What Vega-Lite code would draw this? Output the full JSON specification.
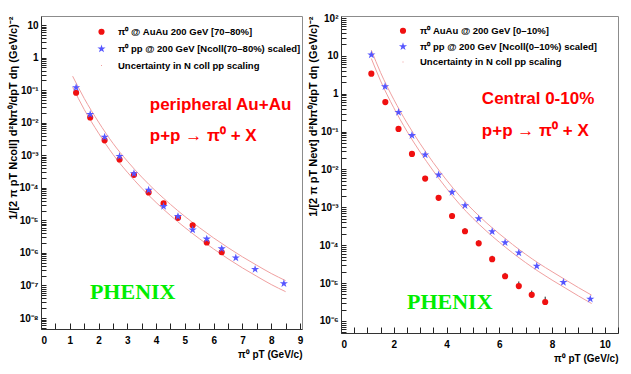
{
  "$schema": "https://vega.github.io/schema/vega-lite/v6.json",
  "background": "white",
  "padding": {"left": 7, "top": 12, "right": 0, "bottom": 0},
  "spacing": 3,
  "config": {
    "view": {"stroke": "#8c8c8c", "strokeWidth": 1},
    "axis": {"grid": false, "labelFont": "Liberation Sans", "labelFontWeight": "bold", "labelFontSize": 10, "labelColor": "#000", "titleFont": "Liberation Sans", "titleFontWeight": "bold", "titleFontSize": 10, "titleColor": "#000", "domainColor": "#333", "tickColor": "#222", "labelOverlap": false},
    "legend": {"labelFont": "Liberation Sans", "labelFontWeight": "bold", "labelFontSize": 9.5, "labelColor": "#000", "labelLimit": 0}
  },
  "datasets": {
    "leftPts": [
      {"pt": 1.22, "y": 0.0832, "lo": 0.0741, "hi": 0.0933, "series": "π⁰ @ AuAu 200 GeV [70–80%]"},
      {"pt": 1.71, "y": 0.01445, "lo": 0.01288, "hi": 0.01622, "series": "π⁰ @ AuAu 200 GeV [70–80%]"},
      {"pt": 2.21, "y": 0.00288, "lo": 0.00251, "hi": 0.00331, "series": "π⁰ @ AuAu 200 GeV [70–80%]"},
      {"pt": 2.73, "y": 0.000741, "lo": 0.000646, "hi": 0.000851, "series": "π⁰ @ AuAu 200 GeV [70–80%]"},
      {"pt": 3.23, "y": 0.000251, "lo": 0.000214, "hi": 0.000295, "series": "π⁰ @ AuAu 200 GeV [70–80%]"},
      {"pt": 3.74, "y": 7.24e-5, "lo": 6.03e-5, "hi": 8.71e-5, "series": "π⁰ @ AuAu 200 GeV [70–80%]"},
      {"pt": 4.26, "y": 3.31e-5, "lo": 2.75e-5, "hi": 3.89e-5, "series": "π⁰ @ AuAu 200 GeV [70–80%]"},
      {"pt": 4.76, "y": 1.2e-5, "lo": 1.0e-5, "hi": 1.41e-5, "series": "π⁰ @ AuAu 200 GeV [70–80%]"},
      {"pt": 5.27, "y": 7.08e-6, "lo": 5.75e-6, "hi": 8.51e-6, "series": "π⁰ @ AuAu 200 GeV [70–80%]"},
      {"pt": 5.76, "y": 2.09e-6, "lo": 1.48e-6, "hi": 2.75e-6, "series": "π⁰ @ AuAu 200 GeV [70–80%]"},
      {"pt": 6.28, "y": 1.05e-6, "lo": 5.62e-7, "hi": 1.48e-6, "series": "π⁰ @ AuAu 200 GeV [70–80%]"},
      {"pt": 1.22, "y": 0.12, "lo": 0.112, "hi": 0.129, "series": "π⁰ pp @ 200 GeV [Ncoll(70–80%) scaled]"},
      {"pt": 1.71, "y": 0.0182, "lo": 0.017, "hi": 0.0195, "series": "π⁰ pp @ 200 GeV [Ncoll(70–80%) scaled]"},
      {"pt": 2.21, "y": 0.00363, "lo": 0.0034, "hi": 0.00389, "series": "π⁰ pp @ 200 GeV [Ncoll(70–80%) scaled]"},
      {"pt": 2.73, "y": 0.000933, "lo": 0.00087, "hi": 0.001, "series": "π⁰ pp @ 200 GeV [Ncoll(70–80%) scaled]"},
      {"pt": 3.23, "y": 0.000275, "lo": 0.000257, "hi": 0.000295, "series": "π⁰ pp @ 200 GeV [Ncoll(70–80%) scaled]"},
      {"pt": 3.74, "y": 8.51e-5, "lo": 7.94e-5, "hi": 9.12e-5, "series": "π⁰ pp @ 200 GeV [Ncoll(70–80%) scaled]"},
      {"pt": 4.26, "y": 2.69e-5, "lo": 2.51e-5, "hi": 2.88e-5, "series": "π⁰ pp @ 200 GeV [Ncoll(70–80%) scaled]"},
      {"pt": 4.76, "y": 1.32e-5, "lo": 1.23e-5, "hi": 1.41e-5, "series": "π⁰ pp @ 200 GeV [Ncoll(70–80%) scaled]"},
      {"pt": 5.27, "y": 5.13e-6, "lo": 4.79e-6, "hi": 5.5e-6, "series": "π⁰ pp @ 200 GeV [Ncoll(70–80%) scaled]"},
      {"pt": 5.76, "y": 2.69e-6, "lo": 2.51e-6, "hi": 2.88e-6, "series": "π⁰ pp @ 200 GeV [Ncoll(70–80%) scaled]"},
      {"pt": 6.28, "y": 1.35e-6, "lo": 1.26e-6, "hi": 1.45e-6, "series": "π⁰ pp @ 200 GeV [Ncoll(70–80%) scaled]"},
      {"pt": 6.77, "y": 7.08e-7, "lo": 6.61e-7, "hi": 7.59e-7, "series": "π⁰ pp @ 200 GeV [Ncoll(70–80%) scaled]"},
      {"pt": 7.44, "y": 3.16e-7, "lo": 2.95e-7, "hi": 3.39e-7, "series": "π⁰ pp @ 200 GeV [Ncoll(70–80%) scaled]"},
      {"pt": 8.44, "y": 1.15e-7, "lo": 1.07e-7, "hi": 1.23e-7, "series": "π⁰ pp @ 200 GeV [Ncoll(70–80%) scaled]"}
    ],
    "leftBand": [
      {"pt": 1.1, "y": 0.269, "side": "upper"}, {"pt": 1.5, "y": 0.0562, "side": "upper"}, {"pt": 2.0, "y": 0.01047, "side": "upper"}, {"pt": 2.5, "y": 0.00234, "side": "upper"},
      {"pt": 3.0, "y": 0.000661, "side": "upper"}, {"pt": 3.5, "y": 0.000214, "side": "upper"}, {"pt": 4.0, "y": 7.76e-5, "side": "upper"}, {"pt": 4.5, "y": 3.09e-5, "side": "upper"},
      {"pt": 5.0, "y": 1.32e-5, "side": "upper"}, {"pt": 5.5, "y": 6.03e-6, "side": "upper"}, {"pt": 6.0, "y": 2.88e-6, "side": "upper"}, {"pt": 6.5, "y": 1.45e-6, "side": "upper"},
      {"pt": 7.0, "y": 7.59e-7, "side": "upper"}, {"pt": 7.5, "y": 4.17e-7, "side": "upper"}, {"pt": 8.0, "y": 2.34e-7, "side": "upper"}, {"pt": 8.5, "y": 1.41e-7, "side": "upper"},
      {"pt": 1.1, "y": 0.123, "side": "lower"}, {"pt": 1.5, "y": 0.0257, "side": "lower"}, {"pt": 2.0, "y": 0.00479, "side": "lower"}, {"pt": 2.5, "y": 0.00107, "side": "lower"},
      {"pt": 3.0, "y": 0.000302, "side": "lower"}, {"pt": 3.5, "y": 9.77e-5, "side": "lower"}, {"pt": 4.0, "y": 3.55e-5, "side": "lower"}, {"pt": 4.5, "y": 1.41e-5, "side": "lower"},
      {"pt": 5.0, "y": 6.03e-6, "side": "lower"}, {"pt": 5.5, "y": 2.75e-6, "side": "lower"}, {"pt": 6.0, "y": 1.32e-6, "side": "lower"}, {"pt": 6.5, "y": 6.61e-7, "side": "lower"},
      {"pt": 7.0, "y": 3.47e-7, "side": "lower"}, {"pt": 7.5, "y": 1.91e-7, "side": "lower"}, {"pt": 8.0, "y": 1.07e-7, "side": "lower"}, {"pt": 8.5, "y": 6.46e-8, "side": "lower"}
    ],
    "leftText": [
      {"pt": 3.78, "y": 0.035, "label": "peripheral Au+Au", "kind": "red"},
      {"pt": 3.78, "y": 0.004, "label": "p+p → π⁰ + X", "kind": "red"},
      {"pt": 1.7, "y": 6.5e-8, "label": "PHENIX", "kind": "green"}
    ],
    "rightPts": [
      {"pt": 1.15, "y": 3.39, "lo": 2.95, "hi": 3.89, "series": "π⁰ AuAu @ 200 GeV [0–10%]"},
      {"pt": 1.68, "y": 0.603, "lo": 0.525, "hi": 0.692, "series": "π⁰ AuAu @ 200 GeV [0–10%]"},
      {"pt": 2.18, "y": 0.1175, "lo": 0.1, "hi": 0.138, "series": "π⁰ AuAu @ 200 GeV [0–10%]"},
      {"pt": 2.69, "y": 0.0257, "lo": 0.0219, "hi": 0.0295, "series": "π⁰ AuAu @ 200 GeV [0–10%]"},
      {"pt": 3.19, "y": 0.00575, "lo": 0.0049, "hi": 0.00676, "series": "π⁰ AuAu @ 200 GeV [0–10%]"},
      {"pt": 3.7, "y": 0.00178, "lo": 0.00148, "hi": 0.00209, "series": "π⁰ AuAu @ 200 GeV [0–10%]"},
      {"pt": 4.21, "y": 0.000589, "lo": 0.00049, "hi": 0.000708, "series": "π⁰ AuAu @ 200 GeV [0–10%]"},
      {"pt": 4.7, "y": 0.000234, "lo": 0.000191, "hi": 0.000282, "series": "π⁰ AuAu @ 200 GeV [0–10%]"},
      {"pt": 5.22, "y": 0.000112, "lo": 8.71e-5, "hi": 0.000135, "series": "π⁰ AuAu @ 200 GeV [0–10%]"},
      {"pt": 5.73, "y": 4.27e-5, "lo": 3.09e-5, "hi": 5.25e-5, "series": "π⁰ AuAu @ 200 GeV [0–10%]"},
      {"pt": 6.22, "y": 1.51e-5, "lo": 1.17e-5, "hi": 1.86e-5, "series": "π⁰ AuAu @ 200 GeV [0–10%]"},
      {"pt": 6.74, "y": 8.32e-6, "lo": 5.89e-6, "hi": 1.1e-5, "series": "π⁰ AuAu @ 200 GeV [0–10%]"},
      {"pt": 7.23, "y": 4.9e-6, "lo": 3.47e-6, "hi": 6.31e-6, "series": "π⁰ AuAu @ 200 GeV [0–10%]"},
      {"pt": 7.74, "y": 3.16e-6, "lo": 2.24e-6, "hi": 4.37e-6, "series": "π⁰ AuAu @ 200 GeV [0–10%]"},
      {"pt": 1.15, "y": 10.7, "lo": 10.0, "hi": 11.5, "series": "π⁰ pp @ 200 GeV [Ncoll(0–10%) scaled]"},
      {"pt": 1.67, "y": 1.55, "lo": 1.45, "hi": 1.66, "series": "π⁰ pp @ 200 GeV [Ncoll(0–10%) scaled]"},
      {"pt": 2.18, "y": 0.324, "lo": 0.302, "hi": 0.347, "series": "π⁰ pp @ 200 GeV [Ncoll(0–10%) scaled]"},
      {"pt": 2.69, "y": 0.0794, "lo": 0.0741, "hi": 0.0851, "series": "π⁰ pp @ 200 GeV [Ncoll(0–10%) scaled]"},
      {"pt": 3.19, "y": 0.0245, "lo": 0.0229, "hi": 0.0263, "series": "π⁰ pp @ 200 GeV [Ncoll(0–10%) scaled]"},
      {"pt": 3.7, "y": 0.00724, "lo": 0.00676, "hi": 0.00776, "series": "π⁰ pp @ 200 GeV [Ncoll(0–10%) scaled]"},
      {"pt": 4.21, "y": 0.00251, "lo": 0.00229, "hi": 0.00275, "series": "π⁰ pp @ 200 GeV [Ncoll(0–10%) scaled]"},
      {"pt": 4.7, "y": 0.00112, "lo": 0.00102, "hi": 0.00123, "series": "π⁰ pp @ 200 GeV [Ncoll(0–10%) scaled]"},
      {"pt": 5.22, "y": 0.000501, "lo": 0.000457, "hi": 0.00055, "series": "π⁰ pp @ 200 GeV [Ncoll(0–10%) scaled]"},
      {"pt": 5.73, "y": 0.000229, "lo": 0.000209, "hi": 0.000251, "series": "π⁰ pp @ 200 GeV [Ncoll(0–10%) scaled]"},
      {"pt": 6.22, "y": 0.000117, "lo": 0.000107, "hi": 0.000128, "series": "π⁰ pp @ 200 GeV [Ncoll(0–10%) scaled]"},
      {"pt": 6.74, "y": 6.31e-5, "lo": 5.75e-5, "hi": 6.92e-5, "series": "π⁰ pp @ 200 GeV [Ncoll(0–10%) scaled]"},
      {"pt": 7.42, "y": 2.82e-5, "lo": 2.57e-5, "hi": 3.09e-5, "series": "π⁰ pp @ 200 GeV [Ncoll(0–10%) scaled]"},
      {"pt": 8.43, "y": 1.05e-5, "lo": 9.55e-6, "hi": 1.15e-5, "series": "π⁰ pp @ 200 GeV [Ncoll(0–10%) scaled]"},
      {"pt": 9.45, "y": 3.8e-6, "lo": 3.39e-6, "hi": 4.27e-6, "series": "π⁰ pp @ 200 GeV [Ncoll(0–10%) scaled]"}
    ],
    "rightBand": [
      {"pt": 1.15, "y": 14.1, "side": "upper"}, {"pt": 1.5, "y": 3.63, "side": "upper"}, {"pt": 2.0, "y": 0.708, "side": "upper"}, {"pt": 2.5, "y": 0.17, "side": "upper"},
      {"pt": 3.0, "y": 0.0479, "side": "upper"}, {"pt": 3.5, "y": 0.0151, "side": "upper"}, {"pt": 4.0, "y": 0.00525, "side": "upper"}, {"pt": 4.5, "y": 0.002, "side": "upper"},
      {"pt": 5.0, "y": 0.000851, "side": "upper"}, {"pt": 5.5, "y": 0.000398, "side": "upper"}, {"pt": 6.0, "y": 0.0002, "side": "upper"}, {"pt": 6.5, "y": 0.000105, "side": "upper"},
      {"pt": 7.0, "y": 5.75e-5, "side": "upper"}, {"pt": 7.5, "y": 3.31e-5, "side": "upper"}, {"pt": 8.0, "y": 2.0e-5, "side": "upper"}, {"pt": 8.5, "y": 1.23e-5, "side": "upper"},
      {"pt": 9.0, "y": 7.59e-6, "side": "upper"}, {"pt": 9.5, "y": 4.79e-6, "side": "upper"},
      {"pt": 1.15, "y": 8.51, "side": "lower"}, {"pt": 1.5, "y": 2.19, "side": "lower"}, {"pt": 2.0, "y": 0.427, "side": "lower"}, {"pt": 2.5, "y": 0.102, "side": "lower"},
      {"pt": 3.0, "y": 0.0288, "side": "lower"}, {"pt": 3.5, "y": 0.00912, "side": "lower"}, {"pt": 4.0, "y": 0.00316, "side": "lower"}, {"pt": 4.5, "y": 0.0012, "side": "lower"},
      {"pt": 5.0, "y": 0.000513, "side": "lower"}, {"pt": 5.5, "y": 0.00024, "side": "lower"}, {"pt": 6.0, "y": 0.00012, "side": "lower"}, {"pt": 6.5, "y": 6.31e-5, "side": "lower"},
      {"pt": 7.0, "y": 3.47e-5, "side": "lower"}, {"pt": 7.5, "y": 2.0e-5, "side": "lower"}, {"pt": 8.0, "y": 1.2e-5, "side": "lower"}, {"pt": 8.5, "y": 7.41e-6, "side": "lower"},
      {"pt": 9.0, "y": 4.57e-6, "side": "lower"}, {"pt": 9.5, "y": 2.88e-6, "side": "lower"}
    ],
    "rightText": [
      {"pt": 5.34, "y": 0.73, "label": "Central 0-10%", "kind": "red"},
      {"pt": 5.34, "y": 0.105, "label": "p+p → π⁰ + X", "kind": "red"},
      {"pt": 2.5, "y": 3.2e-6, "label": "PHENIX", "kind": "green"}
    ]
  },
  "resolve": {"scale": {"x": "independent", "y": "independent", "color": "independent", "shape": "independent", "size": "independent"}},
  "hconcat": [
    {
      "width": 261,
      "height": 313,
      "encoding": {
        "x": {"field": "pt", "type": "quantitative", "scale": {"domain": [0, 9.07], "nice": false, "zero": false},
              "axis": {"values": [0,0.5,1,1.5,2,2.5,3,3.5,4,4.5,5,5.5,6,6.5,7,7.5,8,8.5,9], "labelExpr": "datum.value % 1 == 0 ? format(datum.value, 'd') : ''", "tickSize": -6, "labelPadding": 12, "title": "π⁰ pT (GeV/c)", "titleAnchor": "end", "titlePadding": 4}},
        "y": {"field": "y", "type": "quantitative", "scale": {"type": "log", "domain": [4.6e-9, 19], "nice": false},
              "axis": {"values": [5e-9,6e-9,7e-9,8e-9,9e-9,1e-8,2e-8,3e-8,4e-8,5e-8,6e-8,7e-8,8e-8,9e-8,1e-7,2e-7,3e-7,4e-7,5e-7,6e-7,7e-7,8e-7,9e-7,1e-6,2e-6,3e-6,4e-6,5e-6,6e-6,7e-6,8e-6,9e-6,1e-5,2e-5,3e-5,4e-5,5e-5,6e-5,7e-5,8e-5,9e-5,0.0001,0.0002,0.0003,0.0004,0.0005,0.0006,0.0007,0.0008,0.0009,0.001,0.002,0.003,0.004,0.005,0.006,0.007,0.008,0.009,0.01,0.02,0.03,0.04,0.05,0.06,0.07,0.08,0.09,0.1,0.2,0.3,0.4,0.5,0.6,0.7,0.8,0.9,1,2,3,4,5,6,7,8,9,10],
                       "labelExpr": "abs(log(datum.value)/LN10 - round(log(datum.value)/LN10)) < 0.01 ? (round(log(datum.value)/LN10) == 0 ? '1' : (round(log(datum.value)/LN10) == 1 ? '10' : '10' + (round(log(datum.value)/LN10) < 0 ? '⁻' : '') + substring('⁰¹²³⁴⁵⁶⁷⁸⁹', abs(round(log(datum.value)/LN10)), abs(round(log(datum.value)/LN10)) + 1))) : ''",
                       "tickSize": -5,
                       "labelPadding": 8, "title": "1/[2 π pT Ncoll] d²Nπ⁰/dpT dη (GeV/c)⁻²", "titleFontSize": 11, "titleAnchor": "end", "titlePadding": 0}}
      },
      "layer": [
        {
          "data": {"name": "leftBand"},
          "mark": {"type": "line", "color": "#f0a0a0", "strokeWidth": 1, "interpolate": "monotone"},
          "encoding": {"detail": {"field": "side"}}
        },
        {
          "data": {"name": "leftPts"},
          "mark": {"type": "rule", "color": "#222", "strokeWidth": 1},
          "encoding": {"y2": {"field": "hi"}}
        },
        {
          "data": {"name": "leftPts"},
          "mark": {"type": "point", "filled": true, "opacity": 1},
          "encoding": {
            "size": {"field": "series", "type": "nominal", "scale": {"domain": ["π⁰ @ AuAu 200 GeV [70–80%]", "π⁰ pp @ 200 GeV [Ncoll(70–80%) scaled]", "Uncertainty in N  coll pp scaling"], "range": [38, 110, 4]}, "legend": null},
            "color": {"field": "series", "type": "nominal", "scale": {"domain": ["π⁰ @ AuAu 200 GeV [70–80%]", "π⁰ pp @ 200 GeV [Ncoll(70–80%) scaled]", "Uncertainty in N  coll pp scaling"], "range": ["#f01010", "#5555ff", "#f0a0a0"]},
                      "legend": {"orient": "none", "legendX": 55, "legendY": 11, "title": null, "padding": 0, "symbolSize": 60, "labelOffset": 11, "rowPadding": 6, "symbolStrokeWidth": 0}},
            "shape": {"field": "series", "type": "nominal", "scale": {"domain": ["π⁰ @ AuAu 200 GeV [70–80%]", "π⁰ pp @ 200 GeV [Ncoll(70–80%) scaled]", "Uncertainty in N  coll pp scaling"], "range": ["circle", "M0,-1L0.225,-0.309L0.951,-0.309L0.363,0.118L0.588,0.809L0,0.382L-0.588,0.809L-0.363,0.118L-0.951,-0.309L-0.225,-0.309Z", "M-0.1,-0.1h0.2v0.2h-0.2Z"]},
                      "legend": {"orient": "none", "legendX": 55, "legendY": 11, "title": null, "padding": 0, "symbolSize": 60, "labelOffset": 11, "rowPadding": 6}}
          }
        },
        {
          "data": {"name": "leftText"},
          "transform": [{"filter": "datum.kind == 'red'"}],
          "mark": {"type": "text", "align": "left", "baseline": "middle", "font": "Liberation Sans", "fontWeight": "bold", "fontSize": 17, "color": "#ff0000"},
          "encoding": {"text": {"field": "label"}}
        },
        {
          "data": {"name": "leftText"},
          "transform": [{"filter": "datum.kind == 'green'"}],
          "mark": {"type": "text", "align": "left", "baseline": "middle", "font": "Liberation Serif", "fontWeight": "bold", "fontSize": 22, "color": "#00ee00"},
          "encoding": {"text": {"field": "label"}}
        }
      ]
    },
    {
      "width": 277,
      "height": 317,
      "encoding": {
        "x": {"field": "pt", "type": "quantitative", "scale": {"domain": [0, 10.5], "nice": false, "zero": false},
              "axis": {"values": [0,0.5,1,1.5,2,2.5,3,3.5,4,4.5,5,5.5,6,6.5,7,7.5,8,8.5,9,9.5,10,10.5], "labelExpr": "datum.value % 2 == 0 ? format(datum.value, 'd') : ''", "tickSize": -6, "labelPadding": 12, "title": "π⁰ pT (GeV/c)", "titleAnchor": "end", "titlePadding": 4}},
        "y": {"field": "y", "type": "quantitative", "scale": {"type": "log", "domain": [4.8e-7, 113], "nice": false},
              "axis": {"values": [5e-7,6e-7,7e-7,8e-7,9e-7,1e-6,2e-6,3e-6,4e-6,5e-6,6e-6,7e-6,8e-6,9e-6,1e-5,2e-5,3e-5,4e-5,5e-5,6e-5,7e-5,8e-5,9e-5,0.0001,0.0002,0.0003,0.0004,0.0005,0.0006,0.0007,0.0008,0.0009,0.001,0.002,0.003,0.004,0.005,0.006,0.007,0.008,0.009,0.01,0.02,0.03,0.04,0.05,0.06,0.07,0.08,0.09,0.1,0.2,0.3,0.4,0.5,0.6,0.7,0.8,0.9,1,2,3,4,5,6,7,8,9,10,20,30,40,50,60,70,80,90,100],
                       "labelExpr": "abs(log(datum.value)/LN10 - round(log(datum.value)/LN10)) < 0.01 ? (round(log(datum.value)/LN10) == 0 ? '1' : (round(log(datum.value)/LN10) == 1 ? '10' : '10' + (round(log(datum.value)/LN10) < 0 ? '⁻' : '') + substring('⁰¹²³⁴⁵⁶⁷⁸⁹', abs(round(log(datum.value)/LN10)), abs(round(log(datum.value)/LN10)) + 1))) : ''",
                       "tickSize": -5,
                       "labelPadding": 8, "title": "1/[2 π pT Nevt] d²Nπ⁰/dpT dη (GeV/c)⁻²", "titleFontSize": 11, "titleAnchor": "end", "titlePadding": 0}}
      },
      "layer": [
        {
          "data": {"name": "rightBand"},
          "mark": {"type": "line", "color": "#f0a0a0", "strokeWidth": 1, "interpolate": "monotone"},
          "encoding": {"detail": {"field": "side"}}
        },
        {
          "data": {"name": "rightPts"},
          "mark": {"type": "rule", "color": "#222", "strokeWidth": 1},
          "encoding": {"y2": {"field": "hi"}}
        },
        {
          "data": {"name": "rightPts"},
          "mark": {"type": "point", "filled": true, "opacity": 1},
          "encoding": {
            "size": {"field": "series", "type": "nominal", "scale": {"domain": ["π⁰ AuAu @ 200 GeV [0–10%]", "π⁰ pp @ 200 GeV [Ncoll(0–10%) scaled]", "Uncertainty in N  coll pp scaling"], "range": [38, 110, 4]}, "legend": null},
            "color": {"field": "series", "type": "nominal", "scale": {"domain": ["π⁰ AuAu @ 200 GeV [0–10%]", "π⁰ pp @ 200 GeV [Ncoll(0–10%) scaled]", "Uncertainty in N  coll pp scaling"], "range": ["#f01010", "#5555ff", "#f0a0a0"]},
                      "legend": {"orient": "none", "legendX": 56, "legendY": 10, "title": null, "padding": 0, "symbolSize": 60, "labelOffset": 11, "rowPadding": 5}},
            "shape": {"field": "series", "type": "nominal", "scale": {"domain": ["π⁰ AuAu @ 200 GeV [0–10%]", "π⁰ pp @ 200 GeV [Ncoll(0–10%) scaled]", "Uncertainty in N  coll pp scaling"], "range": ["circle", "M0,-1L0.225,-0.309L0.951,-0.309L0.363,0.118L0.588,0.809L0,0.382L-0.588,0.809L-0.363,0.118L-0.951,-0.309L-0.225,-0.309Z", "M-0.1,-0.1h0.2v0.2h-0.2Z"]},
                      "legend": {"orient": "none", "legendX": 56, "legendY": 10, "title": null, "padding": 0, "symbolSize": 60, "labelOffset": 11, "rowPadding": 5}}
          }
        },
        {
          "data": {"name": "rightText"},
          "transform": [{"filter": "datum.kind == 'red'"}],
          "mark": {"type": "text", "align": "left", "baseline": "middle", "font": "Liberation Sans", "fontWeight": "bold", "fontSize": 17, "color": "#ff0000"},
          "encoding": {"text": {"field": "label"}}
        },
        {
          "data": {"name": "rightText"},
          "transform": [{"filter": "datum.kind == 'green'"}],
          "mark": {"type": "text", "align": "left", "baseline": "middle", "font": "Liberation Serif", "fontWeight": "bold", "fontSize": 22, "color": "#00ee00"},
          "encoding": {"text": {"field": "label"}}
        }
      ]
    }
  ]
}
